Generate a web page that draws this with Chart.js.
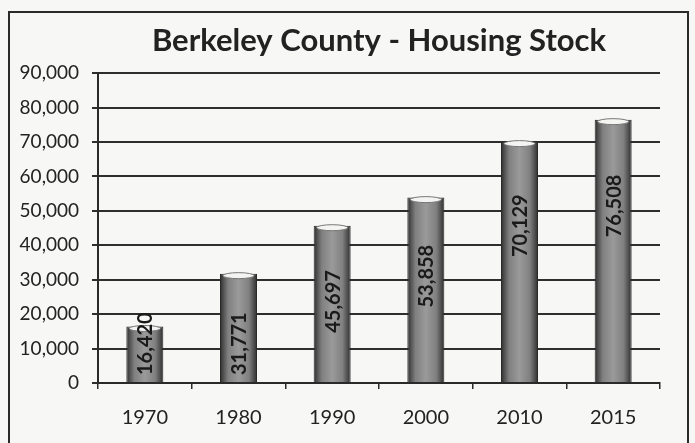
<!DOCTYPE html>
<html>
<head>
<meta charset="utf-8">
<script src="https://cdn.jsdelivr.net/npm/chart.js@4"></script>
<style>
  html, body { margin: 0; padding: 0; background: #f7f7f5; }
  #wrap { position: relative; width: 695px; height: 443px; }
  #frame { position: absolute; left: 8px; top: 11px; width: 681px; height: 440px;
           border: 2px solid #2a2a2a; box-sizing: border-box; }
  canvas { position: absolute; left: 0; top: 0; }
</style>
</head>
<body>
<div id="wrap">
  <div id="frame"></div>
  <canvas id="housingChart" width="695" height="443"></canvas>
</div>
<script>
var years = ['1970', '1980', '1990', '2000', '2010', '2015'];
var housingUnits = [16420, 31771, 45697, 53858, 70129, 76508];
var yTicks = [0, 10000, 20000, 30000, 40000, 50000, 60000, 70000, 80000, 90000];

var BAR_PCT = 0.395;
var FONT = 'Lato, "Open Sans", sans-serif';

// horizontal shading so each bar reads like a cylinder
function barFill(context) {
    var chart = context.chart;
    var xs = chart.scales.x;
    if (!xs || !chart.chartArea) return '#8a8a8a';
    var cx = xs.getPixelForValue(context.dataIndex);
    var w = (xs.width / years.length) * BAR_PCT;
    if (!isFinite(cx) || !isFinite(w) || w <= 0) return '#8a8a8a';
    var g = chart.ctx.createLinearGradient(cx - w / 2, 0, cx + w / 2, 0);
    g.addColorStop(0, '#2c2c2c');
    g.addColorStop(0.09, '#505050');
    g.addColorStop(0.22, '#808080');
    g.addColorStop(0.5, '#9a9a9a');
    g.addColorStop(0.78, '#808080');
    g.addColorStop(0.91, '#505050');
    g.addColorStop(1, '#2c2c2c');
    return g;
}

// top caps and rotated value labels
var barDecor = {
    id: 'barDecor',
    afterDatasetsDraw: function (chart) {
        var ctx = chart.ctx;
        var meta = chart.getDatasetMeta(0);
        var base = chart.scales.y.getPixelForValue(0);
        meta.data.forEach(function (bar, i) {
            var half = bar.width / 2;
            ctx.save();
            ctx.beginPath();
            ctx.ellipse(bar.x, bar.y + 2, half - 3, 3, 0, 0, Math.PI * 2);
            ctx.fillStyle = '#f4f4f2';
            ctx.fill();
            ctx.strokeStyle = '#777';
            ctx.lineWidth = 1;
            ctx.stroke();

            var txt = housingUnits[i].toLocaleString('en-US');
            ctx.font = 'bold 20px ' + FONT;
            var tw = ctx.measureText(txt).width;
            var h = base - bar.y;
            var cy = Math.min(bar.y + 60 + h * 0.1, base - tw / 2 - 8);
            ctx.translate(bar.x, cy);
            ctx.rotate(-Math.PI / 2);
            ctx.fillStyle = '#1a1a1a';
            ctx.textAlign = 'center';
            ctx.textBaseline = 'middle';
            ctx.fillText(txt, 0, 1);
            ctx.restore();
        });
    }
};

var ctx = document.getElementById('housingChart').getContext('2d');
var housingChart = new Chart(ctx, {
    type: 'bar',
    data: {
        labels: years,
        datasets: [{
            data: housingUnits,
            backgroundColor: barFill,
            borderColor: '#2a2a2a',
            borderWidth: 1,
            barPercentage: BAR_PCT,
            categoryPercentage: 1
        }]
    },
    options: {
        responsive: false,
        animation: false,
        layout: { padding: { left: 0, right: 35, top: 0, bottom: 13 } },
        scales: {
            y: {
                min: 0,
                max: 90000,
                afterBuildTicks: function (axis) {
                    axis.ticks = yTicks.map(function (v) { return { value: v }; });
                },
                afterFit: function (axis) { axis.width = 98; },
                border: { display: true, color: '#2a2a2a', width: 2 },
                grid: { color: '#2e2e2e', lineWidth: 2, tickLength: 6 },
                ticks: {
                    color: '#222',
                    padding: 13,
                    font: { family: FONT, size: 19 },
                    callback: function (v) { return v.toLocaleString('en-US'); }
                }
            },
            x: {
                afterFit: function (axis) { axis.height = 47; },
                border: { display: true, color: '#2a2a2a', width: 2 },
                grid: { display: true, drawOnChartArea: false, offset: true, color: '#2a2a2a', lineWidth: 1.5, tickLength: 6 },
                ticks: {
                    color: '#222',
                    padding: 17,
                    font: { family: FONT, size: 20 }
                }
            }
        },
        plugins: {
            legend: { display: false },
            tooltip: { enabled: false },
            title: {
                display: true,
                fullSize: false,
                text: 'Berkeley County - Housing Stock',
                color: '#222',
                font: { family: FONT, size: 31, weight: 'bold' },
                padding: { top: 22, bottom: 14 }
            }
        }
    },
    plugins: [barDecor]
});
</script>
</body>
</html>
